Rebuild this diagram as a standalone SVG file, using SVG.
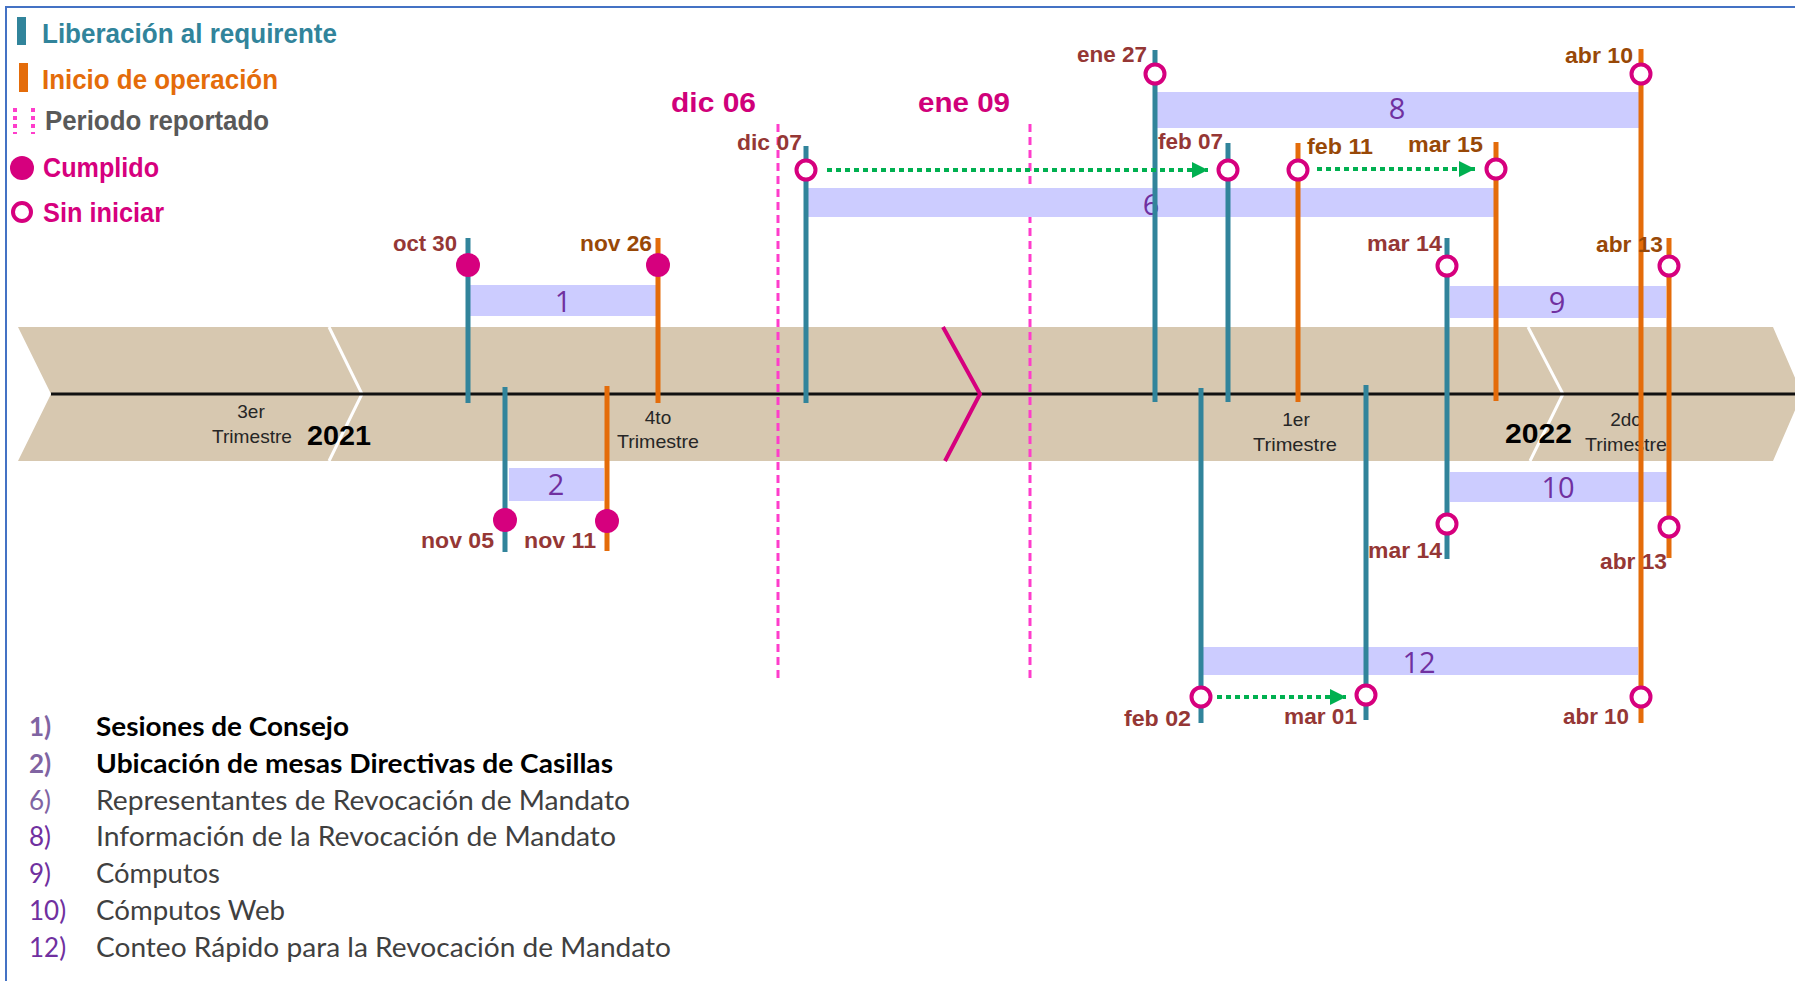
<svg xmlns="http://www.w3.org/2000/svg" width="1795" height="981" viewBox="0 0 1795 981">
<defs>
<style>
.tl{stroke:#31849B;stroke-width:5;fill:none}
.or{stroke:#E46C0A;stroke-width:5;fill:none}
.bar{fill:#CCCCFF}
.num{font-family:"Open Sans","Liberation Sans",sans-serif;font-size:29px;fill:#7030A0;text-anchor:middle}
.dl{font-family:"Liberation Sans",Arial,sans-serif;font-weight:bold;font-size:22px}
.lr{fill:#953735}
.lo{fill:#984807}
.full{fill:#D6007E}
.open{fill:#fff;stroke:#D6007E;stroke-width:4}
.per{stroke:#FF3DCB;stroke-width:3;stroke-dasharray:8 5;fill:none}
.grn{stroke:#00B050;stroke-width:4;stroke-dasharray:5 4;fill:none}
.leg{font-family:"Liberation Sans",Arial,sans-serif;font-weight:bold;font-size:27px}
.tri{font-family:"Liberation Sans",Arial,sans-serif;font-size:19px;fill:#262626;text-anchor:middle}
.yr{font-family:"Liberation Sans",Arial,sans-serif;font-weight:bold;font-size:27px;fill:#000}
.pm{font-family:"Liberation Sans",Arial,sans-serif;font-weight:bold;font-size:28px;fill:#D0007A}
.li{font-family:Lato,"Open Sans",sans-serif;font-size:26px}
.ln{fill:#8064A2}
.ln2{fill:#7030A0}
.lb{font-weight:bold;fill:#000}
.lg{fill:#404040}
</style>
<marker id="ah" viewBox="0 0 10 10" refX="10" refY="5" markerWidth="4" markerHeight="4" markerUnits="strokeWidth" orient="auto">
<path d="M0,0 L10,5 L0,10 Z" fill="#00B050"/>
</marker>
</defs>
<rect width="1795" height="981" fill="#fff"/>
<rect x="6" y="7" width="1800" height="1000" fill="none" stroke="#4472C4" stroke-width="2"/>

<g id="legend">
<rect x="17" y="17" width="9" height="28" fill="#31849B"/>
<text class="leg" x="42" y="43" fill="#31849B" textLength="295" lengthAdjust="spacingAndGlyphs">Liberación al requirente</text>
<rect x="19" y="63" width="9" height="29" fill="#E46C0A"/>
<text class="leg" x="42" y="89" fill="#E46C0A" textLength="236" lengthAdjust="spacingAndGlyphs">Inicio de operación</text>
<line x1="15" y1="108" x2="15" y2="134" stroke="#FF3DCB" stroke-width="4" stroke-dasharray="4 4"/>
<line x1="33" y1="108" x2="33" y2="134" stroke="#FF3DCB" stroke-width="4" stroke-dasharray="4 4"/>
<text class="leg" x="45" y="130" fill="#595959" textLength="224" lengthAdjust="spacingAndGlyphs">Periodo reportado</text>
<circle cx="22" cy="168" r="12" class="full"/>
<text class="leg" x="43" y="177" fill="#D6007E" textLength="116" lengthAdjust="spacingAndGlyphs">Cumplido</text>
<circle cx="22" cy="212" r="9" class="open"/>
<text class="leg" x="43" y="222" fill="#D6007E" textLength="121" lengthAdjust="spacingAndGlyphs">Sin iniciar</text>
</g>

<g id="timeline">
<polygon points="18,327 1773,327 1802,394 1773,461 18,461 51,394" fill="#D7C8B0"/>
<polyline points="329,327 362,394 329,461" fill="none" stroke="#fff" stroke-width="3"/>
<polyline points="1528,327 1563,394 1530,461" fill="none" stroke="#fff" stroke-width="3"/>
<line x1="51" y1="394" x2="1795" y2="394" stroke="#111" stroke-width="3"/>
<polyline points="943,327 980,394 945,461" fill="none" stroke="#D6007E" stroke-width="4"/>
<text class="tri" x="251" y="418">3er</text>
<text class="tri" x="252" y="443" textLength="80" lengthAdjust="spacingAndGlyphs">Trimestre</text>
<text class="yr" x="307" y="445" textLength="64" lengthAdjust="spacingAndGlyphs">2021</text>
<text class="tri" x="658" y="424">4to</text>
<text class="tri" x="658" y="448" textLength="82" lengthAdjust="spacingAndGlyphs">Trimestre</text>
<text class="tri" x="1296" y="426">1er</text>
<text class="tri" x="1295" y="451" textLength="84" lengthAdjust="spacingAndGlyphs">Trimestre</text>
<text class="yr" x="1505" y="443" textLength="67" lengthAdjust="spacingAndGlyphs">2022</text>
<text class="tri" x="1626" y="426">2do</text>
<text class="tri" x="1626" y="451" textLength="82" lengthAdjust="spacingAndGlyphs">Trimestre</text>
</g>

<g id="periodo">
<line class="per" x1="778" y1="124" x2="778" y2="683"/>
<line class="per" x1="1030" y1="124" x2="1030" y2="683"/>
<text class="pm" x="671" y="112" textLength="85" lengthAdjust="spacingAndGlyphs">dic 06</text>
<text class="pm" x="918" y="112" textLength="92" lengthAdjust="spacingAndGlyphs">ene 09</text>
</g>

<g id="bars">
<rect id="bar1" class="bar" x="470" y="285" width="187" height="31"/>
<rect id="bar2" class="bar" x="509" y="468" width="95" height="33"/>
<rect id="bar6" class="bar" x="808" y="188" width="686" height="29"/>
<rect id="bar8" class="bar" x="1157" y="92" width="482" height="36"/>
<rect id="bar9" class="bar" x="1450" y="286" width="216" height="32"/>
<rect id="bar10" class="bar" x="1450" y="472" width="217" height="30"/>
<rect id="bar12" class="bar" x="1203" y="647" width="435" height="28"/>
<text class="num" x="563" y="312">1</text>
<text class="num" x="556" y="495">2</text>
<text class="num" x="1151" y="215">6</text>
<text class="num" x="1397" y="119">8</text>
<text class="num" x="1557" y="313">9</text>
<text class="num" x="1558" y="498">10</text>
<text class="num" x="1419" y="673">12</text>
</g>

<g id="milestones">
<line class="tl" x1="468" y1="238" x2="468" y2="403"/>
<line class="tl" x1="505" y1="387" x2="505" y2="552"/>
<line class="tl" x1="806" y1="146" x2="806" y2="403"/>
<line class="tl" x1="1155" y1="50" x2="1155" y2="402"/>
<line class="tl" x1="1228" y1="143" x2="1228" y2="402"/>
<line class="tl" x1="1201" y1="388" x2="1201" y2="723"/>
<line class="tl" x1="1366" y1="385" x2="1366" y2="720"/>
<line class="tl" x1="1447" y1="238" x2="1447" y2="559"/>
<line class="or" x1="658" y1="238" x2="658" y2="403"/>
<line class="or" x1="607" y1="386" x2="607" y2="551"/>
<line class="or" x1="1298" y1="143" x2="1298" y2="402"/>
<line class="or" x1="1496" y1="142" x2="1496" y2="401"/>
<line class="or" x1="1641" y1="49" x2="1641" y2="723"/>
<line class="or" x1="1669" y1="238" x2="1669" y2="558"/>

<circle class="full" cx="468" cy="265" r="12"/>
<circle class="full" cx="658" cy="265" r="12"/>
<circle class="full" cx="505" cy="520" r="12"/>
<circle class="full" cx="607" cy="521" r="12"/>
<circle class="open" cx="806" cy="170" r="9.5"/>
<circle class="open" cx="1155" cy="74" r="9.5"/>
<circle class="open" cx="1228" cy="170" r="9.5"/>
<circle class="open" cx="1298" cy="170" r="9.5"/>
<circle class="open" cx="1496" cy="169" r="9.5"/>
<circle class="open" cx="1641" cy="74" r="9.5"/>
<circle class="open" cx="1447" cy="266" r="9.5"/>
<circle class="open" cx="1669" cy="266" r="9.5"/>
<circle class="open" cx="1447" cy="524" r="9.5"/>
<circle class="open" cx="1669" cy="527" r="9.5"/>
<circle class="open" cx="1201" cy="697" r="9.5"/>
<circle class="open" cx="1366" cy="695" r="9.5"/>
<circle class="open" cx="1641" cy="697" r="9.5"/>

<text class="dl lr" x="393" y="251" textLength="64" lengthAdjust="spacingAndGlyphs">oct 30</text>
<text class="dl lo" x="580" y="251" textLength="72" lengthAdjust="spacingAndGlyphs">nov 26</text>
<text class="dl lr" x="421" y="548" textLength="73" lengthAdjust="spacingAndGlyphs">nov 05</text>
<text class="dl lr" x="524" y="548" textLength="72" lengthAdjust="spacingAndGlyphs">nov 11</text>
<text class="dl lr" x="737" y="150" textLength="65" lengthAdjust="spacingAndGlyphs">dic 07</text>
<text class="dl lr" x="1077" y="62" textLength="70" lengthAdjust="spacingAndGlyphs">ene 27</text>
<text class="dl lr" x="1158" y="149" textLength="65" lengthAdjust="spacingAndGlyphs">feb 07</text>
<text class="dl lo" x="1307" y="154" textLength="66" lengthAdjust="spacingAndGlyphs">feb 11</text>
<text class="dl lo" x="1408" y="152" textLength="75" lengthAdjust="spacingAndGlyphs">mar 15</text>
<text class="dl lo" x="1565" y="63" textLength="68" lengthAdjust="spacingAndGlyphs">abr 10</text>
<text class="dl lr" x="1367" y="251" textLength="75" lengthAdjust="spacingAndGlyphs">mar 14</text>
<text class="dl lo" x="1596" y="252" textLength="67" lengthAdjust="spacingAndGlyphs">abr 13</text>
<text class="dl lr" x="1368" y="558" textLength="74" lengthAdjust="spacingAndGlyphs">mar 14</text>
<text class="dl lr" x="1600" y="569" textLength="67" lengthAdjust="spacingAndGlyphs">abr 13</text>
<text class="dl lr" x="1124" y="726" textLength="67" lengthAdjust="spacingAndGlyphs">feb 02</text>
<text class="dl lr" x="1284" y="724" textLength="73" lengthAdjust="spacingAndGlyphs">mar 01</text>
<text class="dl lr" x="1563" y="724" textLength="66" lengthAdjust="spacingAndGlyphs">abr 10</text>
</g>

<g id="connectors">
<line class="grn" x1="827" y1="170" x2="1208" y2="170" marker-end="url(#ah)"/>
<line class="grn" x1="1317" y1="169" x2="1475" y2="169" marker-end="url(#ah)"/>
<line class="grn" x1="1217" y1="697" x2="1346" y2="697" marker-end="url(#ah)"/>
</g>

<g id="list">
<text class="li ln" x="29" y="736" font-weight="bold">1)</text>
<text class="li lb" x="96" y="736" textLength="253" lengthAdjust="spacingAndGlyphs">Sesiones de Consejo</text>
<text class="li ln" x="29" y="773" font-weight="bold">2)</text>
<text class="li lb" x="96" y="773" textLength="517" lengthAdjust="spacingAndGlyphs">Ubicación  de mesas Directivas de Casillas</text>
<text class="li ln" x="29" y="810">6)</text>
<text class="li lg" x="96" y="810" textLength="534" lengthAdjust="spacingAndGlyphs">Representantes de Revocación de Mandato</text>
<text class="li ln2" x="29" y="846">8)</text>
<text class="li lg" x="96" y="846" textLength="520" lengthAdjust="spacingAndGlyphs">Información de la Revocación de Mandato</text>
<text class="li ln2" x="29" y="883">9)</text>
<text class="li lg" x="96" y="883" textLength="124" lengthAdjust="spacingAndGlyphs">Cómputos</text>
<text class="li ln2" x="29" y="920">10)</text>
<text class="li lg" x="96" y="920" textLength="189" lengthAdjust="spacingAndGlyphs">Cómputos Web</text>
<text class="li ln2" x="29" y="957">12)</text>
<text class="li lg" x="96" y="957" textLength="575" lengthAdjust="spacingAndGlyphs">Conteo Rápido para la Revocación de Mandato</text>
</g>
</svg>
